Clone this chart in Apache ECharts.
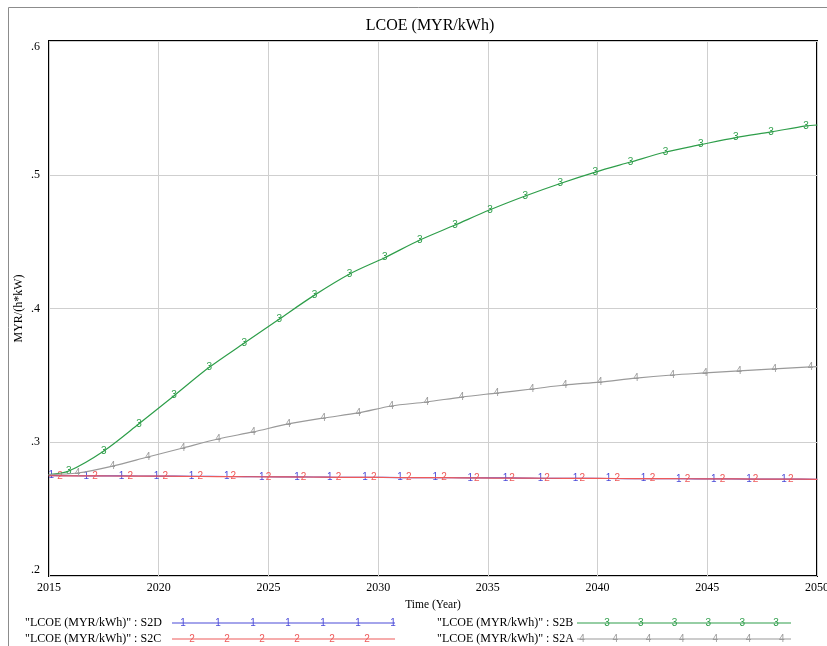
<!DOCTYPE html>
<html>
<head>
<meta charset="utf-8">
<script src="https://cdn.jsdelivr.net/npm/echarts@6/dist/echarts.min.js"></script>
<style>
html,body{margin:0;padding:0;background:#fff;}
#chart{width:827px;height:646px;}
</style>
</head>
<body>
<div id="chart"></div>
<script>
// ---- data ----
const chartTitle = 'LCOE (MYR/kWh)';
const xAxisName = 'Time (Year)';
const yAxisName = 'MYR/(h*kW)';
const xTicks = [2015, 2020, 2025, 2030, 2035, 2040, 2045, 2050];
const yTicks = ['.2', '.3', '.4', '.5', '.6'];

const seriesNames = ['"LCOE (MYR/kWh)" : S2D', '"LCOE (MYR/kWh)" : S2C', '"LCOE (MYR/kWh)" : S2B', '"LCOE (MYR/kWh)" : S2A'];
const seriesMarks = ['1', '2', '3', '4'];

// S2D (blue, marker 1)
const s2dX = [2015, 2015.1, 2016.7, 2018.3, 2019.9, 2021.5, 2023.1, 2024.7, 2026.3, 2027.8, 2029.4, 2031.0, 2032.6, 2034.2, 2035.8, 2037.4, 2039.0, 2040.5, 2042.1, 2043.7, 2045.3, 2046.9, 2048.5, 2050];
const s2dY = [0.2750, 0.2750, 0.2749, 0.2748, 0.2747, 0.2745, 0.2744, 0.2742, 0.2741, 0.2739, 0.2738, 0.2736, 0.2735, 0.2734, 0.2733, 0.2731, 0.2730, 0.2729, 0.2728, 0.2727, 0.2726, 0.2725, 0.2724, 0.2723];
// S2C (red, marker 2)
const s2cX = [2015, 2015.5, 2017.1, 2018.7, 2020.3, 2021.9, 2023.4, 2025.0, 2026.6, 2028.2, 2029.8, 2031.4, 2033.0, 2034.5, 2036.1, 2037.7, 2039.3, 2040.9, 2042.5, 2044.1, 2045.7, 2047.2, 2048.8, 2050];
const s2cY = [0.2750, 0.2749, 0.2748, 0.2747, 0.2746, 0.2744, 0.2743, 0.2741, 0.2740, 0.2738, 0.2737, 0.2736, 0.2735, 0.2733, 0.2732, 0.2731, 0.2730, 0.2729, 0.2728, 0.2727, 0.2726, 0.2725, 0.2724, 0.2723];
// S2B (green, marker 3)
const s2bX = [2015, 2015.9, 2017.5, 2019.1, 2020.7, 2022.3, 2023.9, 2025.5, 2027.1, 2028.7, 2030.3, 2031.9, 2033.5, 2035.1, 2036.7, 2038.3, 2039.9, 2041.5, 2043.1, 2044.7, 2046.3, 2047.9, 2049.5, 2050];
const s2bY = [0.2758, 0.2785, 0.2935, 0.3138, 0.3348, 0.3560, 0.3742, 0.3922, 0.4100, 0.4258, 0.4380, 0.4512, 0.4624, 0.4738, 0.4841, 0.4935, 0.5020, 0.5095, 0.5170, 0.5225, 0.5278, 0.5320, 0.5365, 0.5372];
// S2A (gray, marker 4)
const s2aX = [2015, 2016.3, 2017.9, 2019.5, 2021.1, 2022.7, 2024.3, 2025.9, 2027.5, 2029.1, 2030.6, 2032.2, 2033.8, 2035.4, 2037.0, 2038.5, 2040.1, 2041.75, 2043.4, 2044.9, 2046.45, 2048.05, 2049.7, 2050];
const s2aY = [0.2758, 0.2770, 0.2822, 0.2890, 0.2957, 0.3024, 0.3077, 0.3137, 0.3181, 0.3219, 0.3271, 0.3301, 0.3338, 0.3368, 0.3398, 0.3428, 0.3450, 0.3480, 0.3503, 0.3518, 0.3533, 0.3548, 0.3563, 0.3565];

// ---- styling ----
const colors = ['#4a4ad8', '#ee5a5a', '#2e9e4a', '#9a9a9a'];
const serif = '"Liberation Serif", "Times New Roman", serif';
const sans = '"Liberation Sans", Arial, sans-serif';

const xs = [s2dX, s2cX, s2bX, s2aX];
const ys = [s2dY, s2cY, s2bY, s2aY];

const series = xs.map((xArr, i) => {
  const last = xArr.length - 1;
  return {
    name: seriesNames[i],
    type: 'line',
    data: xArr.map((x, j) => [x, ys[i][j]]),
    smooth: 0.3,
    symbol: 'circle',
    symbolSize: 1,
    showSymbol: true,
    itemStyle: { color: colors[i] },
    lineStyle: { color: colors[i], width: 1.2 },
    label: {
      show: true,
      position: 'inside',
      formatter: p => (p.dataIndex === 0 || p.dataIndex === last) ? '' : seriesMarks[i],
      color: colors[i],
      fontFamily: sans,
      fontSize: 10
    },
    emphasis: { disabled: true },
    silent: true,
    z: 3 + i
  };
});

// legend drawn as graphics (two columns, two rows)
const legendPos = [
  { tx: 25, lx: 172, lw: 223, y: 623, off: 11, step: 35 },
  { tx: 25, lx: 172, lw: 223, y: 639, off: 20, step: 35 },
  { tx: 437, lx: 577, lw: 214, y: 623, off: 30, step: 33.8 },
  { tx: 437, lx: 577, lw: 214, y: 639, off: 5, step: 33.3 }
];
const graphics = [
  { type: 'rect', shape: { x: 8.5, y: 7.5, width: 900, height: 700 }, style: { fill: 'none', stroke: '#8c8c8c', lineWidth: 1 }, silent: true }
];
legendPos.forEach((p, i) => {
  graphics.push({ type: 'text', left: p.tx, top: p.y - 6, style: { text: seriesNames[i], font: '12px ' + serif, fill: '#000' }, silent: true });
  graphics.push({ type: 'line', shape: { x1: p.lx, y1: p.y, x2: p.lx + p.lw, y2: p.y }, style: { stroke: colors[i], lineWidth: 1.2 }, silent: true });
  for (let k = 0; p.off + k * p.step <= p.lw; k++) {
    graphics.push({ type: 'text', x: p.lx + p.off + k * p.step, y: p.y, style: { text: seriesMarks[i], font: '10px ' + sans, fill: colors[i], align: 'center', verticalAlign: 'middle' }, silent: true });
  }
});

const chart = echarts.init(document.getElementById('chart'), null, { renderer: 'canvas' });
chart.setOption({
  animation: false,
  backgroundColor: '#fff',
  title: {
    text: chartTitle,
    left: 425, top: 13,
    textAlign: 'center',
    textStyle: { fontFamily: serif, fontSize: 16, fontWeight: 'normal', color: '#000' }
  },
  grid: {
    left: 49, right: 10, top: 41, bottom: 70,
    show: true, borderColor: '#000', borderWidth: 2,
    containLabel: false, outerBoundsMode: 'none'
  },
  xAxis: {
    type: 'value',
    min: 2015, max: 2050, interval: 5,
    name: xAxisName, nameLocation: 'middle', nameGap: 23,
    nameTextStyle: { fontFamily: serif, fontSize: 11.5, color: '#000' },
    axisLine: { show: false },
    axisTick: { show: false },
    axisLabel: {
      margin: 6,
      fontFamily: serif, fontSize: 12, color: '#000',
      formatter: v => xTicks.includes(v) ? String(v) : ''
    },
    splitLine: { show: true, lineStyle: { color: '#cfcfcf', width: 1 } }
  },
  yAxis: {
    type: 'value',
    min: 0.2, max: 0.6, interval: 0.1,
    name: yAxisName, nameLocation: 'middle', nameGap: 24,
    nameMoveOverlap: false,
    nameTextStyle: { fontFamily: serif, fontSize: 12, color: '#000' },
    axisLine: { show: false },
    axisTick: { show: false },
    axisLabel: {
      margin: 9,
      fontFamily: serif, fontSize: 12, color: '#000',
      verticalAlignMinLabel: 'bottom',
      verticalAlignMaxLabel: 'top',
      formatter: v => yTicks[Math.round((v - 0.2) * 10)] || ''
    },
    splitLine: { show: true, lineStyle: { color: '#cfcfcf', width: 1 } }
  },
  series: series,
  graphic: graphics
});
</script>
</body>
</html>
